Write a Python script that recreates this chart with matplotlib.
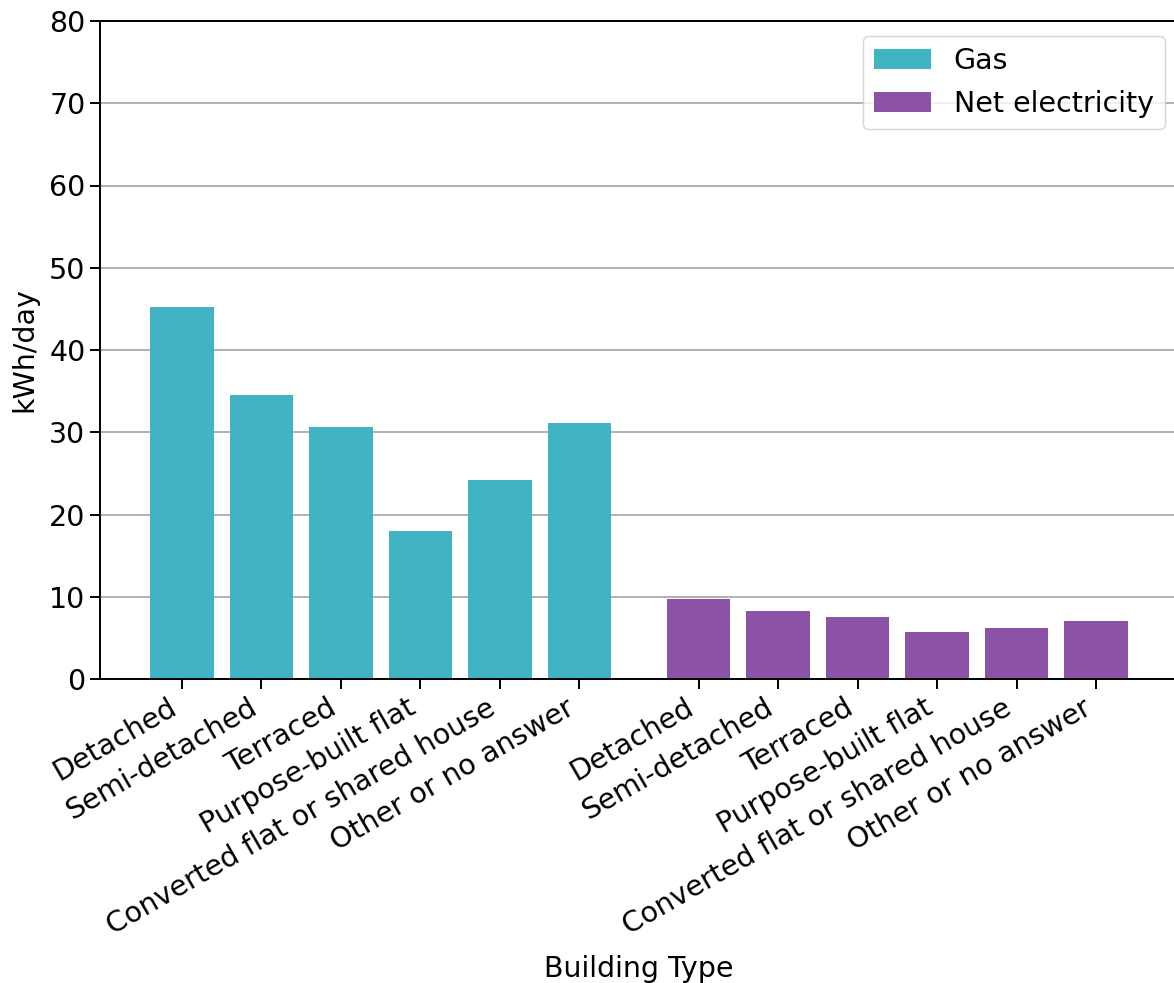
import numpy as np
import matplotlib
matplotlib.use('Agg')
import matplotlib.pyplot as plt

plt.rcParams['font.family'] = ['DejaVu Sans']

building_types = ['Detached', 'Semi-detached', 'Terraced', 'Purpose-built flat',
                  'Converted flat or shared house', 'Other or no answer']
gas_kwh = [45.2, 34.5, 30.6, 18.0, 24.2, 31.1]
elec_kwh = [9.7, 8.3, 7.5, 5.7, 6.2, 7.05]

gas_colour = '#41b4c4'
elec_colour = '#8b52a5'

fs = 20.5


def main():
    fig = plt.figure(figsize=(11.74, 9.83), dpi=100)
    ax = fig.add_axes([100/1174, 1 - 679/983, 1078/1174, 658/983])

    n = len(building_types)
    x_gas = np.arange(n)
    x_elec = np.arange(n) + n + 0.5

    ax.bar(x_gas, gas_kwh, width=0.8, color=gas_colour, label='Gas')
    ax.bar(x_elec, elec_kwh, width=0.8, color=elec_colour, label='Net electricity')

    ax.set_xticks(np.concatenate([x_gas, x_elec]))
    ax.set_xticklabels(building_types + building_types, rotation=30, ha='right', fontsize=fs)
    ax.tick_params(axis='y', labelsize=fs)
    ax.tick_params(length=7, width=1.4)

    ax.set_ylim(0, 80)
    ax.set_xlim(-1.03, 12.53)
    ax.yaxis.grid(True, color='#b0b0b0', linewidth=1.4)
    ax.set_axisbelow(True)
    for s in ax.spines.values():
        s.set_linewidth(1.4)

    ax.set_ylabel('kWh/day', fontsize=fs, labelpad=8)
    ax.set_xlabel('Building Type', fontsize=fs, labelpad=11)

    ax.legend(loc='upper right', bbox_to_anchor=(1165/1174, 1 - 36/983),
              bbox_transform=fig.transFigure, borderaxespad=0, fontsize=fs)

    plt.savefig('out.png', dpi=100)


if __name__ == "__main__":
    main()
